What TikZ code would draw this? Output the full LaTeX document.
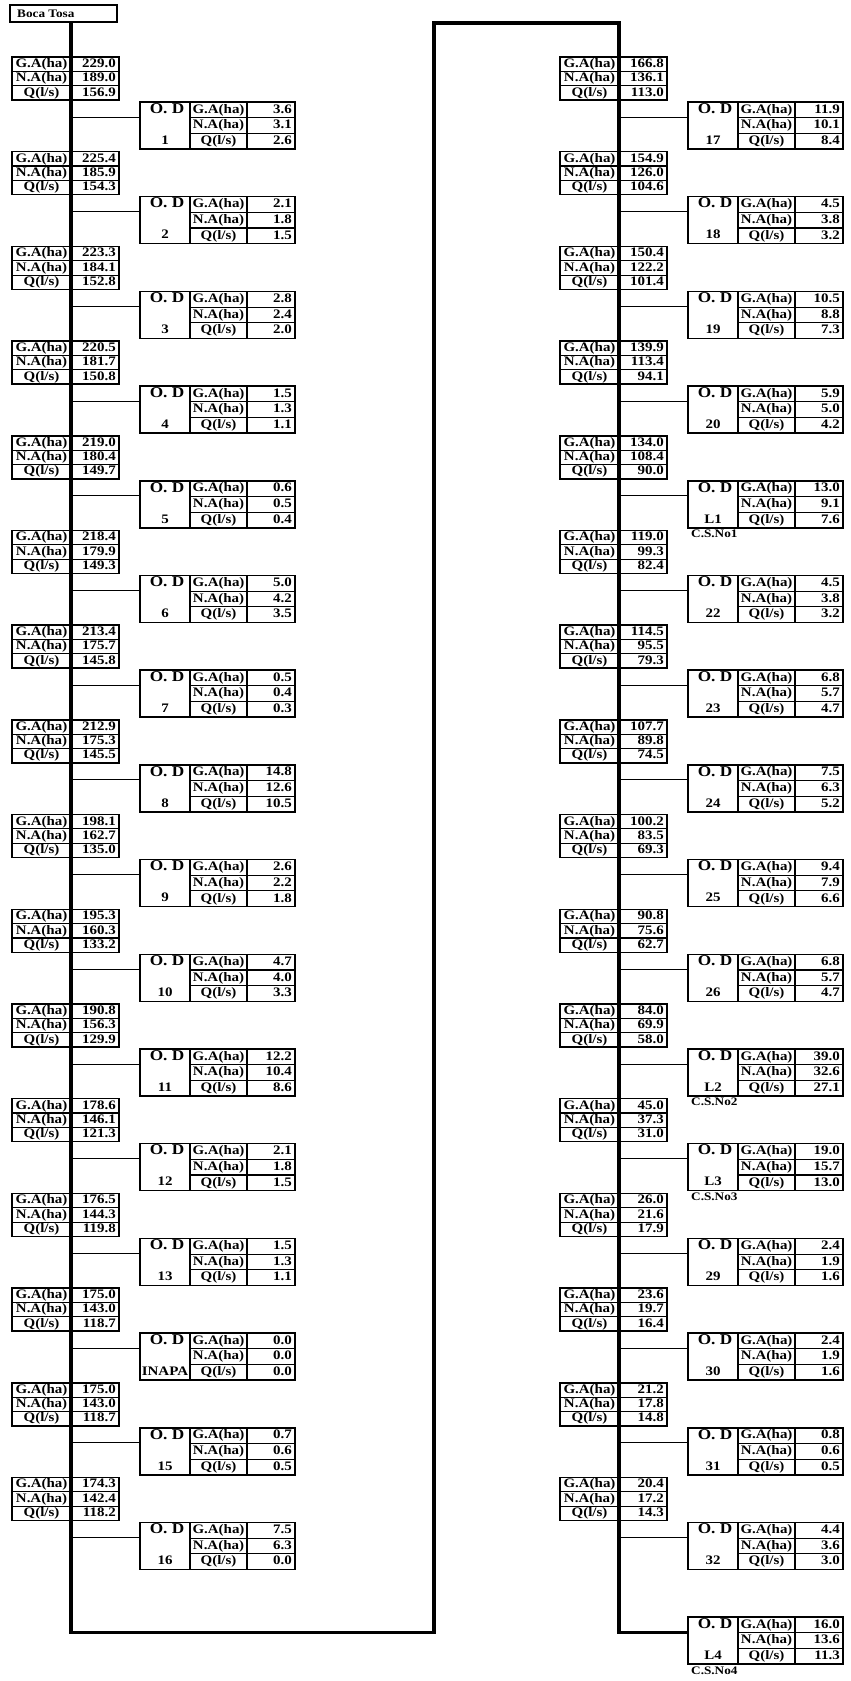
\documentclass[tikz,border=0pt]{standalone}
\usepackage{fontspec}
\setmainfont{Liberation Serif}
\newfontfamily\cellfont[FakeStretch=1.15]{Liberation Serif}
\usetikzlibrary{positioning, calc}

\tikzset{
  canal/.style={line width=3.4pt, line join=miter},
  tap/.style={line width=0.9pt},
  frame/.style={draw, line width=1.5pt, inner sep=0pt, outer sep=0pt},
  rule/.style={line width=1.1pt},
  cell/.style={inner sep=0pt, font=\cellfont\bfseries\fontsize{13}{14}\selectfont, text height=9pt, text depth=2.6pt},
  odtag/.style={cell, font=\cellfont\bfseries\fontsize{15}{16}\selectfont},
  cstag/.style={inner sep=0pt, font=\cellfont\bfseries\fontsize{11.5}{12}\selectfont},
}

% flow box: name, left x, top y, G.A, N.A, Q
\newcommand{\flowbox}[6]{%
  \node[frame, minimum width=107pt, minimum height=43pt, anchor=north west] (#1) at (#2,#3) {};
  \draw[rule] ([yshift=-14.3pt]#1.north west) -- ([yshift=-14.3pt]#1.north east);
  \draw[rule] ([yshift=14.3pt]#1.south west) -- ([yshift=14.3pt]#1.south east);
  \node[cell] (#1-ga) at ([shift={(29.5,7.2)}]#1.north west) {G.A(ha)};
  \node[cell] (#1-na) at ([shift={(29.5,21.5)}]#1.north west) {N.A(ha)};
  \node[cell] (#1-q) at ([shift={(29.5,35.8)}]#1.north west) {Q(l/s)};
  \node[cell, anchor=east] (#1-gav) at ([shift={(104,7.2)}]#1.north west) {#4};
  \node[cell, anchor=east] (#1-nav) at ([shift={(104,21.5)}]#1.north west) {#5};
  \node[cell, anchor=east] (#1-qv) at ([shift={(104,35.8)}]#1.north west) {#6};
}

% outlet box: name, left x, top y, number, G.A, N.A, Q
\newcommand{\odbox}[7]{%
  \node[frame, minimum width=155pt, minimum height=47pt, anchor=north west] (#1) at (#2,#3) {};
  \draw[rule] ([xshift=50pt]#1.north west) -- ([xshift=50pt]#1.south west);
  \draw[rule] ([xshift=107pt]#1.north west) -- ([xshift=107pt]#1.south west);
  \draw[rule] ([shift={(50,15.7)}]#1.north west) -- ([yshift=-15.7pt]#1.north east);
  \draw[rule] ([shift={(50,-15.7)}]#1.south west) -- ([yshift=15.7pt]#1.south east);
  \node[odtag] (#1-od) at ([shift={(27,8)}]#1.north west) {O. D};
  \node[cell] (#1-no) at ([shift={(25,39)}]#1.north west) {#4};
  \node[cell] (#1-ga) at ([shift={(78.5,7.8)}]#1.north west) {G.A(ha)};
  \node[cell] (#1-na) at ([shift={(78.5,23.5)}]#1.north west) {N.A(ha)};
  \node[cell] (#1-q) at ([shift={(78.5,39.2)}]#1.north west) {Q(l/s)};
  \node[cell, anchor=east] (#1-gav) at ([shift={(152,7.8)}]#1.north west) {#5};
  \node[cell, anchor=east] (#1-nav) at ([shift={(152,23.5)}]#1.north west) {#6};
  \node[cell, anchor=east] (#1-qv) at ([shift={(152,39.2)}]#1.north west) {#7};
  \coordinate (#1tap) at ({#2-69},{#3+15});
  \draw[tap] (#1tap) -- (#1tap -| #1.west);
}

\begin{document}
\begin{tikzpicture}[x=1pt, y=-1pt]
  \path[use as bounding box] (0,0) rectangle (851,1681);
  \fill[white] (0,0) rectangle (851,1681);

  % intake
  \node[frame, minimum width=107pt, minimum height=17pt, anchor=north west] (boca) at (10,5) {};
  \node[cstag, anchor=west] (boca-t) at ([xshift=7pt]boca.west) {Boca Tosa};

  % left branch
  \flowbox{fa1}{12}{57}{229.0}{189.0}{156.9}
  \odbox{od1}{140}{102}{1}{3.6}{3.1}{2.6}
  \flowbox{fa2}{12}{151.7}{225.4}{185.9}{154.3}
  \odbox{od2}{140}{196.7}{2}{2.1}{1.8}{1.5}
  \flowbox{fa3}{12}{246.4}{223.3}{184.1}{152.8}
  \odbox{od3}{140}{291.4}{3}{2.8}{2.4}{2.0}
  \flowbox{fa4}{12}{341.1}{220.5}{181.7}{150.8}
  \odbox{od4}{140}{386.1}{4}{1.5}{1.3}{1.1}
  \flowbox{fa5}{12}{435.8}{219.0}{180.4}{149.7}
  \odbox{od5}{140}{480.8}{5}{0.6}{0.5}{0.4}
  \flowbox{fa6}{12}{530.5}{218.4}{179.9}{149.3}
  \odbox{od6}{140}{575.5}{6}{5.0}{4.2}{3.5}
  \flowbox{fa7}{12}{625.2}{213.4}{175.7}{145.8}
  \odbox{od7}{140}{670.2}{7}{0.5}{0.4}{0.3}
  \flowbox{fa8}{12}{719.9}{212.9}{175.3}{145.5}
  \odbox{od8}{140}{764.9}{8}{14.8}{12.6}{10.5}
  \flowbox{fa9}{12}{814.6}{198.1}{162.7}{135.0}
  \odbox{od9}{140}{859.6}{9}{2.6}{2.2}{1.8}
  \flowbox{fa10}{12}{909.3}{195.3}{160.3}{133.2}
  \odbox{od10}{140}{954.3}{10}{4.7}{4.0}{3.3}
  \flowbox{fa11}{12}{1004}{190.8}{156.3}{129.9}
  \odbox{od11}{140}{1049}{11}{12.2}{10.4}{8.6}
  \flowbox{fa12}{12}{1098.7}{178.6}{146.1}{121.3}
  \odbox{od12}{140}{1143.7}{12}{2.1}{1.8}{1.5}
  \flowbox{fa13}{12}{1193.4}{176.5}{144.3}{119.8}
  \odbox{od13}{140}{1238.4}{13}{1.5}{1.3}{1.1}
  \flowbox{fa14}{12}{1288.1}{175.0}{143.0}{118.7}
  \odbox{odI}{140}{1333.1}{INAPA}{0.0}{0.0}{0.0}
  \flowbox{fa15}{12}{1382.8}{175.0}{143.0}{118.7}
  \odbox{od15}{140}{1427.8}{15}{0.7}{0.6}{0.5}
  \flowbox{fa16}{12}{1477.5}{174.3}{142.4}{118.2}
  \odbox{od16}{140}{1522.5}{16}{7.5}{6.3}{0.0}

  % right branch
  \flowbox{fb1}{560}{57}{166.8}{136.1}{113.0}
  \odbox{od17}{688}{102}{17}{11.9}{10.1}{8.4}
  \flowbox{fb2}{560}{151.7}{154.9}{126.0}{104.6}
  \odbox{od18}{688}{196.7}{18}{4.5}{3.8}{3.2}
  \flowbox{fb3}{560}{246.4}{150.4}{122.2}{101.4}
  \odbox{od19}{688}{291.4}{19}{10.5}{8.8}{7.3}
  \flowbox{fb4}{560}{341.1}{139.9}{113.4}{94.1}
  \odbox{od20}{688}{386.1}{20}{5.9}{5.0}{4.2}
  \flowbox{fb5}{560}{435.8}{134.0}{108.4}{90.0}
  \odbox{odL1}{688}{480.8}{L1}{13.0}{9.1}{7.6}
  \flowbox{fb6}{560}{530.5}{119.0}{99.3}{82.4}
  \odbox{od22}{688}{575.5}{22}{4.5}{3.8}{3.2}
  \flowbox{fb7}{560}{625.2}{114.5}{95.5}{79.3}
  \odbox{od23}{688}{670.2}{23}{6.8}{5.7}{4.7}
  \flowbox{fb8}{560}{719.9}{107.7}{89.8}{74.5}
  \odbox{od24}{688}{764.9}{24}{7.5}{6.3}{5.2}
  \flowbox{fb9}{560}{814.6}{100.2}{83.5}{69.3}
  \odbox{od25}{688}{859.6}{25}{9.4}{7.9}{6.6}
  \flowbox{fb10}{560}{909.3}{90.8}{75.6}{62.7}
  \odbox{od26}{688}{954.3}{26}{6.8}{5.7}{4.7}
  \flowbox{fb11}{560}{1004}{84.0}{69.9}{58.0}
  \odbox{odL2}{688}{1049}{L2}{39.0}{32.6}{27.1}
  \flowbox{fb12}{560}{1098.7}{45.0}{37.3}{31.0}
  \odbox{odL3}{688}{1143.7}{L3}{19.0}{15.7}{13.0}
  \flowbox{fb13}{560}{1193.4}{26.0}{21.6}{17.9}
  \odbox{od29}{688}{1238.4}{29}{2.4}{1.9}{1.6}
  \flowbox{fb14}{560}{1288.1}{23.6}{19.7}{16.4}
  \odbox{od30}{688}{1333.1}{30}{2.4}{1.9}{1.6}
  \flowbox{fb15}{560}{1382.8}{21.2}{17.8}{14.8}
  \odbox{od31}{688}{1427.8}{31}{0.8}{0.6}{0.5}
  \flowbox{fb16}{560}{1477.5}{20.4}{17.2}{14.3}
  \odbox{od32}{688}{1522.5}{32}{4.4}{3.6}{3.0}
  \odbox{odL4}{688}{1617.2}{L4}{16.0}{13.6}{11.3}

  % check structures
  \node[cstag, anchor=north west] (cs1) at ([shift={(3,2)}]odL1.south west) {C.S.No1};
  \node[cstag, anchor=north west] (cs2) at ([shift={(3,2)}]odL2.south west) {C.S.No2};
  \node[cstag, anchor=north west] (cs3) at ([shift={(3,2)}]odL3.south west) {C.S.No3};
  \node[cstag, anchor=north west] (cs4) at ([shift={(3,2)}]odL4.south west) {C.S.No4};

  % main canal
  \coordinate (lt) at (71,22);
  \coordinate (lb) at (71,1632.2);
  \coordinate (mb) at (434,1632.2);
  \coordinate (mt) at (434,23);
  \coordinate (rt) at (619,23);
  \coordinate (rb) at (619,1632.2);
  \draw[canal] (lt) -- (lb) -- (mb) -- (mt) -- (rt) -- (rb) -- (rb -| odL4.west);
\end{tikzpicture}
\end{document}
